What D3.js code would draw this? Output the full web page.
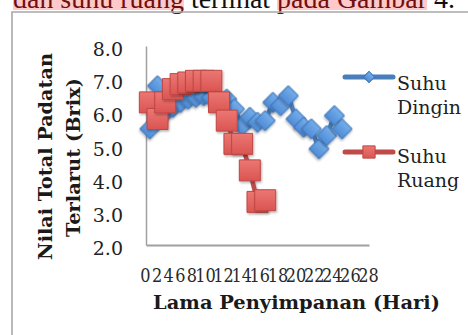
<!DOCTYPE html>
<html>
<head>
<meta charset="utf-8">
<script src="https://cdn.jsdelivr.net/npm/d3@7"></script>
<style>
  html, body { margin: 0; padding: 0; background: #fff; }
  svg { display: block; }
</style>
</head>
<body>
<svg id="chart" width="468" height="335"></svg>
<script>
// ---- data -------------------------------------------------------------
const xLabels = ["0","2","4","6","8","10","12","14","16","18","20","22","24","26","28"];
const yTicks = [2, 3, 4, 5, 6, 7, 8];
const suhuDingin = [5.5, 6.8, 6.0, 6.15, 6.3, 6.4, 6.45, 6.5, 6.45, 6.4, 6.4, 6.1, 5.6, 5.85, 5.7, 5.75,
                    6.3, 6.2, 6.5, 5.8, 5.55, 5.5, 4.9, 5.3, 5.9, 5.5];
const suhuRuang = [6.3, 5.8, 6.3, 6.7, 6.85, 6.9, 6.95, 6.95, 6.95, 6.3, 5.75, 5.05, 5.05, 4.25, 3.3, 3.35];
const legendDingin = ["Suhu", "Dingin"];
const legendRuang = ["Suhu", "Ruang"];
const yTitle = ["Nilai Total Padatan", "Terlarut (Brix)"];
const xTitle = "Lama Penyimpanan (Hari)";
const captionParts = [
  { text: "dan suhu ruang", mark: true },
  { text: " terlihat ", mark: false },
  { text: "pada Gambar", mark: true },
  { text: " 4.", mark: false }
];

const svg = d3.select("#chart");
const serif = "'DejaVu Serif', serif";

// helper: size a text so that it spans a given width
function fitWidth(sel, target) {
  const base = parseFloat(sel.attr("font-size"));
  const w = sel.node().getComputedTextLength();
  sel.attr("font-size", (base * target / w).toFixed(2));
}

// ---- caption line above the figure (cut by the page edge) ------------
const cap = svg.append("g");
const probe = cap.append("text")
  .attr("font-family", "'Liberation Serif', serif")
  .attr("font-size", 26)
  .style("white-space", "pre")
  .text(captionParts.map(p => p.text).join(""));
const capSize = 26 * 442 / probe.node().getComputedTextLength();
probe.remove();
let cx = 13;
captionParts.forEach(p => {
  const t = cap.append("text")
    .attr("x", cx).attr("y", 7.5)
    .attr("font-family", "'Liberation Serif', serif")
    .attr("font-size", capSize)
    .attr("fill", p.mark ? "#6e1010" : "#111")
    .style("white-space", "pre")
    .text(p.text);
  const w = t.node().getComputedTextLength();
  if (p.mark) {
    cap.insert("rect", "text")
      .attr("x", cx).attr("y", -2).attr("width", w).attr("height", 12)
      .attr("fill", "#ffc9c9");
  }
  cx += w;
});

// ---- chart frame -------------------------------------------------------
svg.append("path")
  .attr("d", "M12,335V12H468")
  .attr("fill", "none")
  .attr("stroke", "#a8a8a8")
  .attr("stroke-width", 1.6);

// ---- defs --------------------------------------------------------------
const defs = svg.append("defs");
const shadow = defs.append("filter").attr("id", "shadow")
  .attr("x", "-30%").attr("y", "-30%").attr("width", "170%").attr("height", "170%");
shadow.append("feDropShadow")
  .attr("dx", 1).attr("dy", 1.5).attr("stdDeviation", 1)
  .attr("flood-color", "#000").attr("flood-opacity", 0.3);

const gBlue = defs.append("linearGradient").attr("id", "gBlue")
  .attr("x1", 0).attr("y1", 0).attr("x2", 0).attr("y2", 1);
gBlue.append("stop").attr("offset", "0%").attr("stop-color", "#74aeea");
gBlue.append("stop").attr("offset", "100%").attr("stop-color", "#4f8bd6");
const gRed = defs.append("linearGradient").attr("id", "gRed")
  .attr("x1", 0).attr("y1", 0).attr("x2", 0).attr("y2", 1);
gRed.append("stop").attr("offset", "0%").attr("stop-color", "#ec7773");
gRed.append("stop").attr("offset", "100%").attr("stop-color", "#da5552");

// ---- scales ------------------------------------------------------------
const x = d3.scaleLinear().domain([-0.5, 28.5]).range([146, 369]);
const y = d3.scaleLinear().domain([2, 8]).range([245, 46]);
// category labels are packed tightly along the axis
const xl = d3.scaleLinear().domain([0, 4, 5, 14]).range([145, 191.5, 205, 368]);

// ---- axes --------------------------------------------------------------
const yAxis = svg.append("g")
  .attr("transform", "translate(146,0)")
  .call(d3.axisLeft(y).tickValues(yTicks).tickFormat(d3.format(".1f"))
    .tickSize(0).tickSizeOuter(0).tickPadding(23));
yAxis.select(".domain").attr("stroke", "#a0a0a0").attr("stroke-width", 1.5);
yAxis.selectAll("text")
  .attr("font-family", serif).attr("font-size", 19)
  .attr("fill", "#222").attr("dy", "0.5em");

const xAxis = svg.append("g")
  .attr("transform", "translate(0,245)")
  .call(d3.axisBottom(x).tickValues([]).tickSizeOuter(0));
xAxis.select(".domain").attr("stroke", "#a0a0a0").attr("stroke-width", 2);

const xLab = svg.append("g")
  .attr("transform", "translate(0,245)")
  .call(d3.axisBottom(xl).tickValues(d3.range(xLabels.length))
    .tickFormat(i => xLabels[i]).tickSize(0).tickPadding(23.5));
xLab.select(".domain").remove();
xLab.selectAll("text")
  .attr("font-family", serif).attr("font-size", 19)
  .attr("fill", "#2a2a2a")
  .attr("transform", "scale(0.85,1)");

// ---- series ------------------------------------------------------------
const line = d3.line().x((d, i) => x(i)).y(d => y(d));

function drawSeries(values, color, fill, stroke, sym, size, rot) {
  const g = svg.append("g");
  g.append("path")
    .datum(values)
    .attr("d", line)
    .attr("fill", "none")
    .attr("stroke", color)
    .attr("stroke-width", 4.5)
    .attr("stroke-linejoin", "round")
    .attr("filter", "url(#shadow)");
  g.selectAll("path.mk")
    .data(values)
    .join("path")
    .attr("class", "mk")
    .attr("d", d3.symbol(sym, size))
    .attr("transform", (d, i) => `translate(${x(i)},${y(d)}) rotate(${rot})`)
    .attr("fill", fill)
    .attr("stroke", stroke)
    .attr("stroke-width", 1)
    .attr("filter", "url(#shadow)");
}
drawSeries(suhuDingin, "#4a7ebb", "url(#gBlue)", "#3f73b5", d3.symbolSquare, 200, 45);
drawSeries(suhuRuang, "#be4b48", "url(#gRed)", "#bf4744", d3.symbolSquare, 440, 0);

// ---- legend ------------------------------------------------------------
function legendItem(ly, color, fill, stroke, size, rot, labels, baselines) {
  const g = svg.append("g");
  g.append("line")
    .attr("x1", 345).attr("x2", 393).attr("y1", ly).attr("y2", ly)
    .attr("stroke", color).attr("stroke-width", 5).attr("stroke-linecap", "round");
  g.append("path")
    .attr("d", d3.symbol(d3.symbolSquare, size))
    .attr("transform", `translate(369,${ly}) rotate(${rot})`)
    .attr("fill", fill).attr("stroke", stroke).attr("stroke-width", 1);
  labels.forEach((t, i) => {
    g.append("text")
      .attr("x", 397).attr("y", baselines[i])
      .attr("font-family", serif).attr("font-size", 19)
      .attr("fill", "#222")
      .text(t);
  });
}
legendItem(77, "#4a7ebb", "url(#gBlue)", "#3f73b5", 64, 45, legendDingin, [90, 114]);
legendItem(152, "#be4b48", "url(#gRed)", "#bf4744", 150, 0, legendRuang, [163, 187]);

// ---- titles ------------------------------------------------------------
const yt1 = svg.append("text")
  .attr("transform", "translate(45,156.5) rotate(-90)")
  .attr("text-anchor", "middle").attr("dominant-baseline", "central")
  .attr("font-family", serif).attr("font-weight", "bold").attr("font-size", 19)
  .attr("fill", "#1a1a1a").text(yTitle[0]);
fitWidth(yt1, 207);
const yt2 = svg.append("text")
  .attr("transform", "translate(73,157.5) rotate(-90)")
  .attr("text-anchor", "middle").attr("dominant-baseline", "central")
  .attr("font-family", serif).attr("font-weight", "bold").attr("font-size", 19)
  .attr("fill", "#1a1a1a").text(yTitle[1]);
fitWidth(yt2, 159);
const xt = svg.append("text")
  .attr("x", 296.5).attr("y", 309)
  .attr("text-anchor", "middle")
  .attr("font-family", serif).attr("font-weight", "bold").attr("font-size", 19)
  .attr("fill", "#1a1a1a").text(xTitle);
fitWidth(xt, 287);
</script>
</body>
</html>
